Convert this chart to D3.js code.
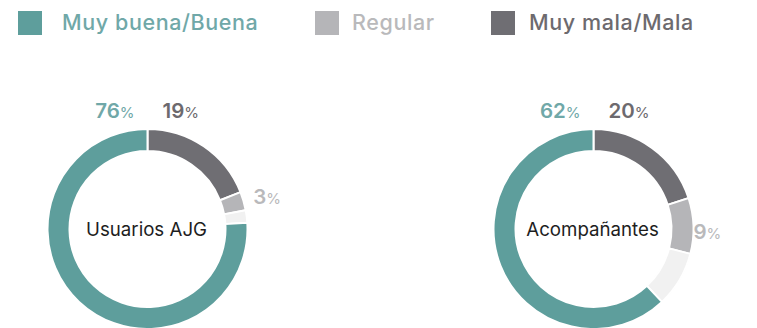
<!DOCTYPE html>
<html>
<head>
<meta charset="utf-8">
<script src="https://cdn.jsdelivr.net/npm/d3@7"></script>
<style>
  html, body { margin: 0; padding: 0; background: #ffffff; }
  svg { display: block; font-family: "Inter", "Noto Sans", sans-serif; }
</style>
</head>
<body>
<svg id="chart" width="757" height="328"></svg>
<script>
// Survey groups shown as one donut each
const groups = ["Usuarios AJG", "Acompañantes"];

// Rating categories (legend order)
const categories = ["Muy buena/Buena", "Regular", "Muy mala/Mala"];

// Share of answers per group, in percent
const muyBuena = [76, 62];
const regular = [3, 9];
const muyMala = [19, 20];

const colors = {
  "Muy buena/Buena": "#5e9e9c",
  "Regular": "#b5b5b8",
  "Muy mala/Mala": "#6f6e73",
  "Sin respuesta": "#f1f1f1"
};
const labelColors = {
  "Muy buena/Buena": "#70a8a8",
  "Regular": "#b9b9bb",
  "Muy mala/Mala": "#6d6a6e"
};

const svg = d3.select("#chart");

// ---- Legend ----
const legendX = [18, 315, 491];
const legendGap = [44, 37, 38];
const legend = svg.append("g");
categories.forEach((c, i) => {
  const g = legend.append("g").attr("transform", `translate(${legendX[i]},11)`);
  g.append("rect").attr("width", 24).attr("height", 24).attr("fill", colors[c]);
  g.append("text")
    .attr("x", legendGap[i]).attr("y", 19)
    .attr("font-size", 21.5).attr("font-weight", 500)
    .attr("letter-spacing", 0.6)
    .attr("fill", labelColors[c])
    .text(c);
});

// ---- Donuts ----
const outerR = 100, innerR = 78;
const centersX = d3.scalePoint().domain(groups).range([147.5, 593.5]);
const cy = 229;

const arc = d3.arc().innerRadius(innerR).outerRadius(outerR);
const pie = d3.pie().sort(null).value(d => d.value)
  .startAngle(0).endAngle(2 * Math.PI);

// Extra nudge for the "Regular" label of each donut
const regLabelShift = [{dx: 2, dy: -2}, {dx: -8, dy: 6}];

groups.forEach((grp, i) => {
  const cx = centersX(grp);
  const rows = [
    {key: "Muy mala/Mala", value: muyMala[i]},
    {key: "Regular", value: regular[i]},
    {key: "Sin respuesta", value: 100 - muyMala[i] - regular[i] - muyBuena[i]},
    {key: "Muy buena/Buena", value: muyBuena[i]}
  ];
  const arcs = pie(rows);
  const g = svg.append("g").attr("transform", `translate(${cx},${cy})`);

  g.selectAll("path.seg")
    .data(arcs)
    .join("path")
    .attr("class", "seg")
    .attr("d", arc)
    .attr("fill", d => colors[d.data.key])
    .attr("stroke", "#ffffff")
    .attr("stroke-width", 2);

  // Percentage labels
  const pct = (sel, v) => {
    sel.append("tspan").attr("font-size", 20.5).attr("font-weight", 600).text(v);
    sel.append("tspan").attr("font-size", 15).attr("font-weight", 400).text("%");
  };

  const good = arcs.find(a => a.data.key === "Muy buena/Buena");
  const bad = arcs.find(a => a.data.key === "Muy mala/Mala");
  const reg = arcs.find(a => a.data.key === "Regular");

  const tGood = g.append("text")
    .attr("x", -13).attr("y", -outerR - 11)
    .attr("text-anchor", "end")
    .attr("fill", labelColors["Muy buena/Buena"]);
  pct(tGood, good.data.value);

  const tBad = g.append("text")
    .attr("x", 15).attr("y", -outerR - 11)
    .attr("fill", labelColors["Muy mala/Mala"]);
  pct(tBad, bad.data.value);

  const mid = (reg.startAngle + reg.endAngle) / 2;
  const lr = outerR + 8;
  const tReg = g.append("text")
    .attr("x", lr * Math.sin(mid) + regLabelShift[i].dx)
    .attr("y", -lr * Math.cos(mid) + regLabelShift[i].dy + 7)
    .attr("fill", labelColors["Regular"]);
  pct(tReg, reg.data.value);

  // Group name in the hole
  g.append("text")
    .attr("x", -1).attr("y", 7)
    .attr("text-anchor", "middle")
    .attr("font-size", 18.7)
    .attr("fill", "#1e1e1e")
    .text(grp);
});
</script>
</body>
</html>
